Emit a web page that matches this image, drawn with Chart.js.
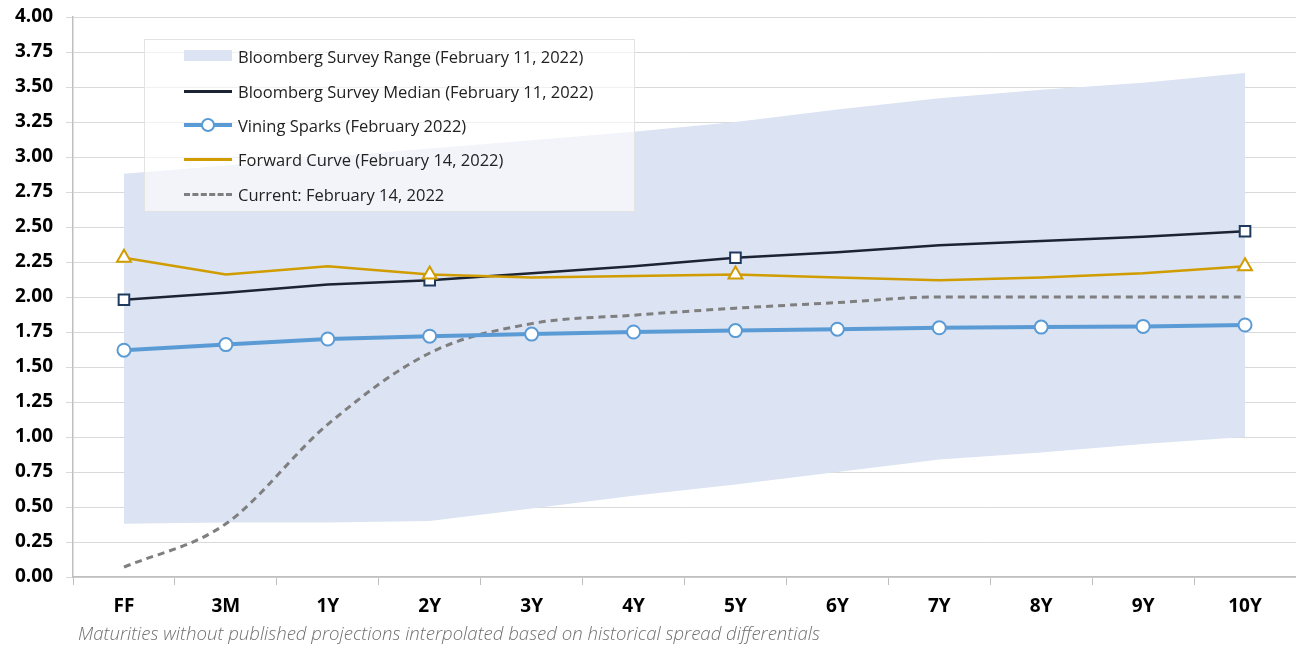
<!DOCTYPE html>
<html>
<head>
<meta charset="utf-8">
<script src="https://cdn.jsdelivr.net/npm/chart.js@4"></script>
<style>
  html, body { margin: 0; padding: 0; background: #ffffff; }
  #wrap { position: relative; width: 1296px; height: 648px; overflow: hidden; }
  #chart { position: absolute; left: 0; top: 0; }
  #legend {
    position: absolute; left: 144px; top: 39px; width: 491px; height: 173px;
    background: rgba(255,255,255,0.62); border: 1px solid #e3e3e3; box-sizing: border-box;
    font-family: "Open Sans", sans-serif; font-size: 16.5px; color: #222222;
  }
  .item { position: absolute; left: 39px; height: 20px; display: flex; align-items: center; white-space: nowrap; }
  .sw { position: relative; width: 48px; height: 20px; margin-right: 6px; }
  .sw .fillbox { position: absolute; left: 0; top: 4px; width: 48px; height: 11px; }
  .sw .ln { position: absolute; left: 0; width: 48px; top: 9px; }
  .sw .dot { position: absolute; left: 17px; top: 3px; width: 10px; height: 10px; border-radius: 50%; background: #fff; }
  #note {
    position: absolute; left: 78px; top: 620px; font-family: "Open Sans", sans-serif;
    font-style: italic; font-weight: 300; font-size: 18.6px; color: #707070; white-space: nowrap;
  }
</style>
</head>
<body>
<div id="wrap">
  <canvas id="chart" width="1296" height="648"></canvas>
  <div id="legend"></div>
  <div id="note"></div>
</div>
<script>
// ---- data ----
const categories = ['FF', '3M', '1Y', '2Y', '3Y', '4Y', '5Y', '6Y', '7Y', '8Y', '9Y', '10Y'];
const rangeHigh    = [2.88, 2.94, 3.00, 3.06, 3.12, 3.18, 3.25, 3.34, 3.42, 3.48, 3.53, 3.60];
const rangeLow     = [0.38, 0.39, 0.39, 0.40, 0.49, 0.58, 0.66, 0.75, 0.84, 0.89, 0.95, 1.00];
const surveyMedian = [1.98, 2.03, 2.09, 2.12, 2.17, 2.22, 2.28, 2.32, 2.37, 2.40, 2.43, 2.47];
const viningSparks = [1.62, 1.66, 1.70, 1.72, 1.735, 1.75, 1.76, 1.77, 1.78, 1.785, 1.79, 1.80];
const forwardCurve = [2.28, 2.16, 2.22, 2.16, 2.14, 2.15, 2.16, 2.14, 2.12, 2.14, 2.17, 2.22];
const currentCurve = [0.07, 0.38, 1.09, 1.60, 1.81, 1.87, 1.92, 1.96, 2.00, 2.00, 2.00, 2.00];
const publishedMaturities = ['FF', '2Y', '5Y', '10Y'];
const yTickValues = [0, 0.25, 0.5, 0.75, 1, 1.25, 1.5, 1.75, 2, 2.25, 2.5, 2.75, 3, 3.25, 3.5, 3.75, 4];

const labels = {
  range: 'Bloomberg Survey Range (February 11, 2022)',
  median: 'Bloomberg Survey Median (February 11, 2022)',
  vining: 'Vining Sparks (February 2022)',
  forward: 'Forward Curve (February 14, 2022)',
  current: 'Current: February 14, 2022'
};
const footnote = 'Maturities without published projections interpolated based on historical spread differentials';

// ---- styles ----
const C = {
  range: '#dce3f2',
  median: '#1c2433',
  medianMarker: '#1f3a5f',
  vining: '#5b9bd5',
  forward: '#d09c00',
  current: '#7f7f7f',
  grid: '#d9d9d9',
  axis: '#bfbfbf'
};
const isPublished = ctx => publishedMaturities.includes(categories[ctx.dataIndex]);

const tickFont = { family: '"Open Sans", sans-serif', size: 19, weight: 'bold' };

const chart = new Chart(document.getElementById('chart'), {
  type: 'line',
  data: {
    labels: categories,
    datasets: [
      {
        label: labels.forward, data: forwardCurve,
        borderColor: C.forward, borderWidth: 2.5, tension: 0,
        pointStyle: 'triangle', backgroundColor: '#ffffff', pointBackgroundColor: '#ffffff',
        pointBorderColor: C.forward, pointBorderWidth: 2,
        pointRadius: ctx => isPublished(ctx) ? 8 : 0, fill: false
      },
      {
        label: labels.median, data: surveyMedian,
        borderColor: C.median, borderWidth: 2.5, tension: 0,
        pointStyle: 'rect', pointBackgroundColor: '#ffffff',
        pointBorderColor: C.medianMarker, pointBorderWidth: 2,
        pointRadius: ctx => isPublished(ctx) ? 7.5 : 0, fill: false
      },
      {
        label: labels.vining, data: viningSparks,
        borderColor: C.vining, borderWidth: 4, tension: 0,
        pointStyle: 'circle', pointBackgroundColor: '#ffffff',
        pointBorderColor: C.vining, pointBorderWidth: 2, pointRadius: 6.5, fill: false
      },
      {
        label: labels.current, data: currentCurve,
        borderColor: C.current, borderWidth: 3, borderDash: [7, 5],
        cubicInterpolationMode: 'monotone',
        pointRadius: 0, fill: false
      },
      {
        label: labels.range, data: rangeHigh,
        borderColor: 'rgba(0,0,0,0)', borderWidth: 0, pointRadius: 0,
        backgroundColor: C.range, fill: '+1', tension: 0
      },
      {
        label: labels.range + ' low', data: rangeLow,
        borderColor: 'rgba(0,0,0,0)', borderWidth: 0, pointRadius: 0,
        fill: false, tension: 0
      }
    ]
  },
  options: {
    responsive: false,
    devicePixelRatio: 1,
    animation: false,
    layout: { autoPadding: false, padding: { top: 17, bottom: 27, left: 0, right: 0 } },
    plugins: {
      legend: { display: false },
      tooltip: { enabled: false },
      title: { display: false }
    },
    scales: {
      x: {
        type: 'category',
        offset: true,
        grid: { offset: true, drawOnChartArea: false, drawTicks: true, tickLength: 8, color: C.axis, lineWidth: 1 },
        border: { color: C.axis, width: 1.5 },
        ticks: { font: tickFont, color: '#000000', padding: 10, maxRotation: 0, autoSkip: false },
        afterFit: s => { s.height = 44; s.paddingLeft = 0; s.paddingRight = 0; }
      },
      y: {
        min: 0, max: 4,
        afterBuildTicks: s => { s.ticks = yTickValues.map(v => ({ value: v })); },
        grid: { color: C.grid, lineWidth: 1, tickLength: 7, drawTicks: true },
        border: { color: C.axis, width: 1.5 },
        ticks: { font: tickFont, color: '#000000', padding: 13, callback: v => Number(v).toFixed(2) },
        afterFit: s => { s.width = 73; s.paddingTop = 0; s.paddingBottom = 0; }
      }
    }
  }
});

// ---- HTML legend ----
const legendItems = [
  { text: labels.range, kind: 'fill', color: C.range },
  { text: labels.median, kind: 'line', color: C.median, w: 3 },
  { text: labels.vining, kind: 'dot', color: C.vining, w: 4 },
  { text: labels.forward, kind: 'line', color: C.forward, w: 3 },
  { text: labels.current, kind: 'dash', color: C.current, w: 3 }
];
const legendEl = document.getElementById('legend');
const rowTops = [6, 41, 75, 109, 144];
legendItems.forEach((it, i) => {
  const row = document.createElement('div');
  row.className = 'item';
  row.style.top = rowTops[i] + 'px';
  const sw = document.createElement('div');
  sw.className = 'sw';
  if (it.kind === 'fill') {
    const b = document.createElement('div'); b.className = 'fillbox'; b.style.background = it.color; sw.appendChild(b);
  } else {
    const l = document.createElement('div'); l.className = 'ln';
    l.style.borderTop = it.w + 'px ' + (it.kind === 'dash' ? 'dashed ' : 'solid ') + it.color;
    l.style.top = (10 - it.w / 2) + 'px';
    sw.appendChild(l);
    if (it.kind === 'dot') {
      const d = document.createElement('div'); d.className = 'dot';
      d.style.border = '2px solid ' + it.color; d.style.top = '3px';
      sw.appendChild(d);
    }
  }
  row.appendChild(sw);
  const t = document.createElement('span'); t.textContent = it.text; row.appendChild(t);
  legendEl.appendChild(row);
});
document.getElementById('note').textContent = footnote;
</script>
</body>
</html>
